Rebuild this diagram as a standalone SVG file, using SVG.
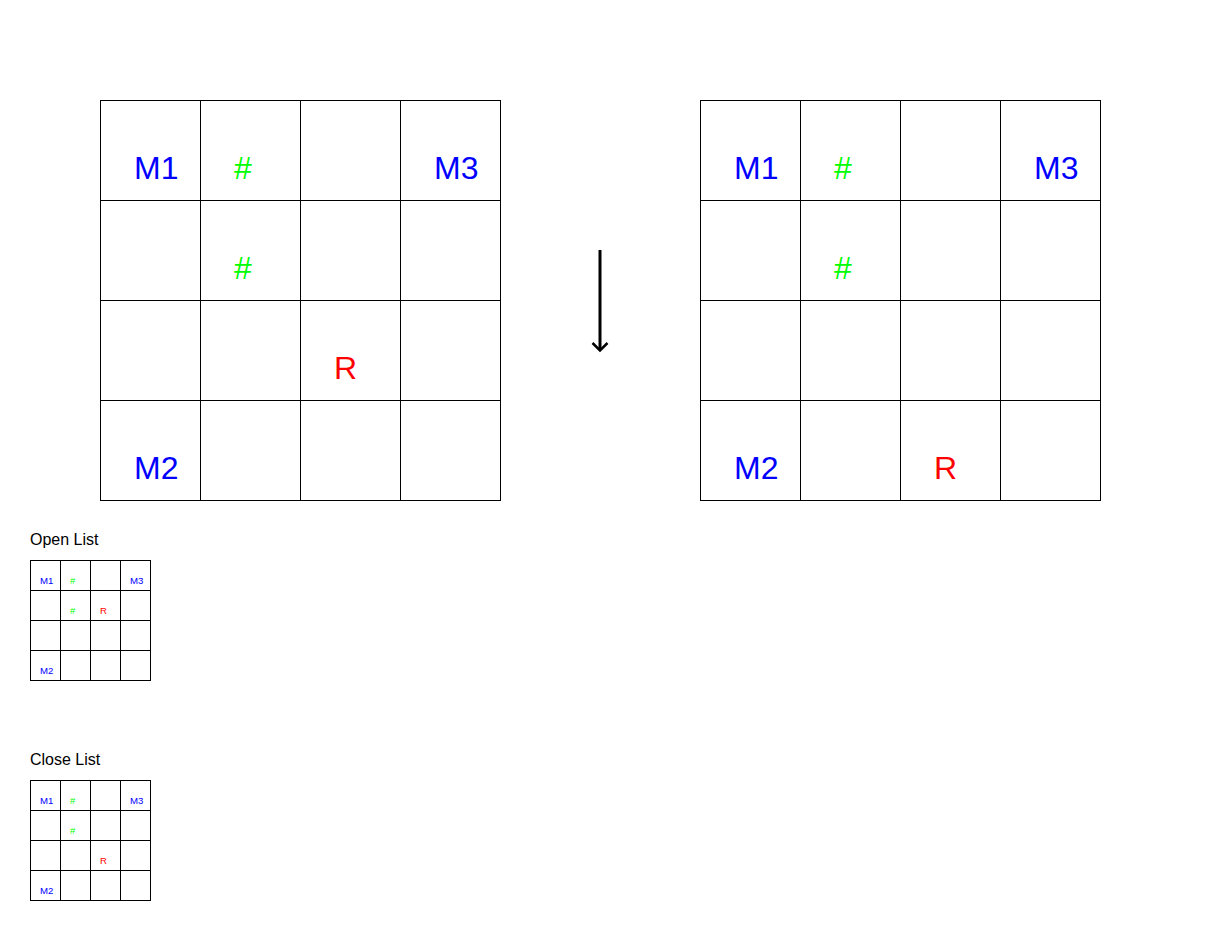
<svg xmlns="http://www.w3.org/2000/svg" width="1230" height="940" viewBox="0 0 1230 940">
<style>
.cell{fill:#ffffff;stroke:#000000;stroke-width:1}
.big{font-family:"Liberation Sans",Arial,sans-serif;font-size:32px}
.small{font-family:"Liberation Sans",Arial,sans-serif;font-size:9.6px}
.cap{font-family:"Liberation Sans",Arial,sans-serif;font-size:16px;fill:#000000}
.m{fill:#0000ff}
.h{fill:#00ff00}
.r{fill:#ff0000}
</style>
<defs>
<g id="bigGrid">
<rect class="cell" x="0.5" y="0.5" width="100" height="100"/><rect class="cell" x="100.5" y="0.5" width="100" height="100"/><rect class="cell" x="200.5" y="0.5" width="100" height="100"/><rect class="cell" x="300.5" y="0.5" width="100" height="100"/>
<rect class="cell" x="0.5" y="100.5" width="100" height="100"/><rect class="cell" x="100.5" y="100.5" width="100" height="100"/><rect class="cell" x="200.5" y="100.5" width="100" height="100"/><rect class="cell" x="300.5" y="100.5" width="100" height="100"/>
<rect class="cell" x="0.5" y="200.5" width="100" height="100"/><rect class="cell" x="100.5" y="200.5" width="100" height="100"/><rect class="cell" x="200.5" y="200.5" width="100" height="100"/><rect class="cell" x="300.5" y="200.5" width="100" height="100"/>
<rect class="cell" x="0.5" y="300.5" width="100" height="100"/><rect class="cell" x="100.5" y="300.5" width="100" height="100"/><rect class="cell" x="200.5" y="300.5" width="100" height="100"/><rect class="cell" x="300.5" y="300.5" width="100" height="100"/>
</g>
<g id="smallGrid">
<rect class="cell" x="0.5" y="0.5" width="30" height="30"/><rect class="cell" x="30.5" y="0.5" width="30" height="30"/><rect class="cell" x="60.5" y="0.5" width="30" height="30"/><rect class="cell" x="90.5" y="0.5" width="30" height="30"/>
<rect class="cell" x="0.5" y="30.5" width="30" height="30"/><rect class="cell" x="30.5" y="30.5" width="30" height="30"/><rect class="cell" x="60.5" y="30.5" width="30" height="30"/><rect class="cell" x="90.5" y="30.5" width="30" height="30"/>
<rect class="cell" x="0.5" y="60.5" width="30" height="30"/><rect class="cell" x="30.5" y="60.5" width="30" height="30"/><rect class="cell" x="60.5" y="60.5" width="30" height="30"/><rect class="cell" x="90.5" y="60.5" width="30" height="30"/>
<rect class="cell" x="0.5" y="90.5" width="30" height="30"/><rect class="cell" x="30.5" y="90.5" width="30" height="30"/><rect class="cell" x="60.5" y="90.5" width="30" height="30"/><rect class="cell" x="90.5" y="90.5" width="30" height="30"/>
</g>
</defs>
<rect x="0" y="0" width="1230" height="940" fill="#ffffff"/>

<g id="grid-before">
<use href="#bigGrid" x="100" y="100"/>
<text class="big m" x="134" y="179">M1</text>
<text class="big h" x="234" y="179">#</text>
<text class="big m" x="434" y="179">M3</text>
<text class="big h" x="234" y="279">#</text>
<text class="big r" x="334" y="379">R</text>
<text class="big m" x="134" y="479">M2</text>
</g>

<g id="grid-after">
<use href="#bigGrid" x="700" y="100"/>
<text class="big m" x="734" y="179">M1</text>
<text class="big h" x="834" y="179">#</text>
<text class="big m" x="1034" y="179">M3</text>
<text class="big h" x="834" y="279">#</text>
<text class="big r" x="934" y="479">R</text>
<text class="big m" x="734" y="479">M2</text>
</g>

<g id="connectors">
<line x1="600" y1="250" x2="600" y2="350" stroke="#000000" stroke-width="3"/>
<polyline points="592.5,343 600,350.5 607.5,343" fill="none" stroke="#000000" stroke-width="2.5"/>
</g>

<g id="open-list">
<text class="cap" x="30" y="545">Open List</text>
<use href="#smallGrid" x="30" y="560"/>
<text class="small m" x="40" y="584">M1</text>
<text class="small h" x="70" y="584">#</text>
<text class="small m" x="130" y="584">M3</text>
<text class="small h" x="70" y="614">#</text>
<text class="small r" x="100" y="614">R</text>
<text class="small m" x="40" y="674">M2</text>
</g>

<g id="close-list">
<text class="cap" x="30" y="765">Close List</text>
<use href="#smallGrid" x="30" y="780"/>
<text class="small m" x="40" y="804">M1</text>
<text class="small h" x="70" y="804">#</text>
<text class="small m" x="130" y="804">M3</text>
<text class="small h" x="70" y="834">#</text>
<text class="small r" x="100" y="864">R</text>
<text class="small m" x="40" y="894">M2</text>
</g>
</svg>
